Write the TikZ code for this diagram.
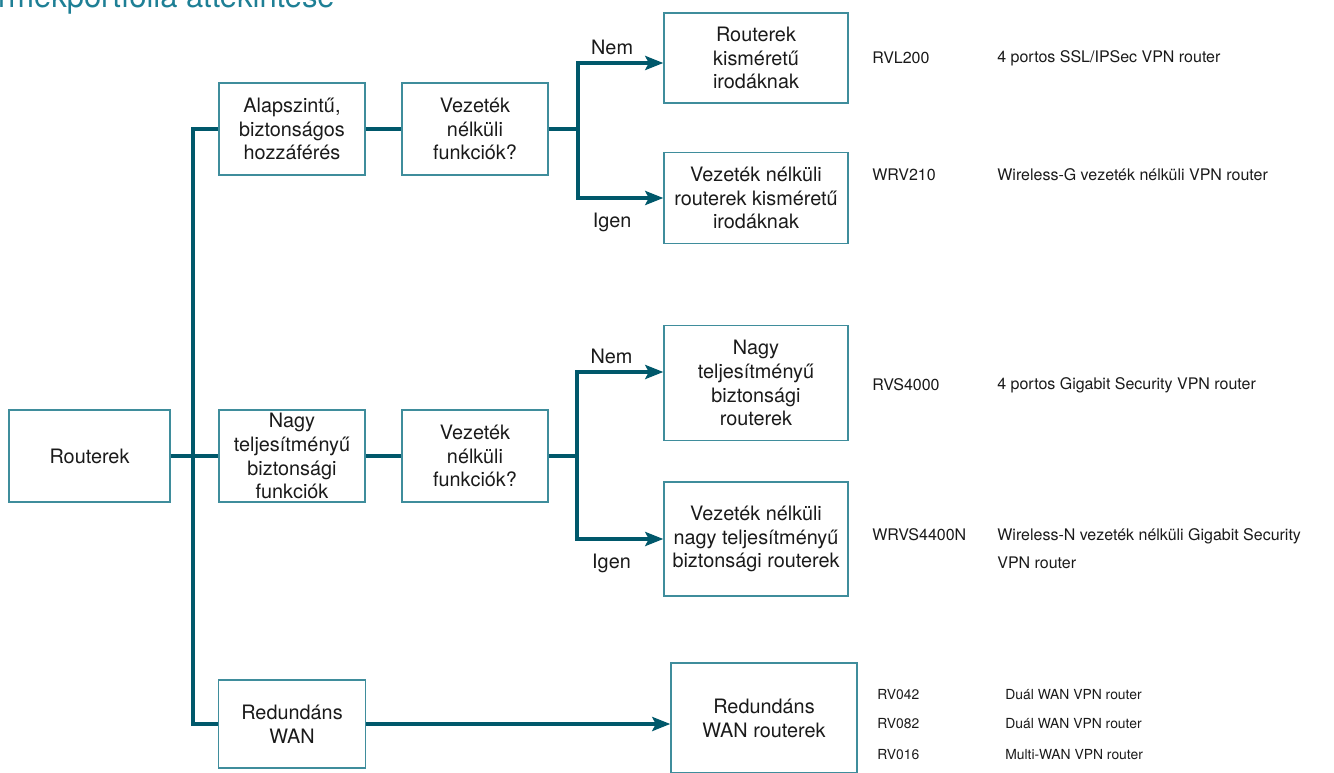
\documentclass[tikz,border=0pt]{standalone}
\usepackage{fontspec}
\setmainfont{TeX Gyre Heros}
\usetikzlibrary{arrows.meta}
\definecolor{petrol}{HTML}{00586B}
\definecolor{boxline}{HTML}{3F8D9C}
\definecolor{titleteal}{HTML}{1E7F95}
\definecolor{ink}{HTML}{1A1A1A}

\begin{document}
\begin{tikzpicture}[x=0.02cm, y=-0.02cm, text=ink,
    box/.style={draw=boxline, line width=0.85pt, align=center, inner xsep=1pt, inner ysep=0pt, font=\fontsize{11.3}{13.6}\selectfont},
    link/.style={draw=petrol, line width=2.3pt},
    arrowlink/.style={link, -{Stealth[length=0.36cm, width=0.28cm, inset=0.07cm]}},
    answer/.style={font=\fontsize{11.3}{13.6}\selectfont},
    rowtext/.style={anchor=west, align=left, inner sep=0pt, font=\fontsize{9.1}{15.9}\selectfont},
    rowsmall/.style={anchor=west, inner sep=0pt, font=\fontsize{7.9}{10}\selectfont}]
    \useasboundingbox (0,0) rectangle (1334,773);
    \clip (0,0) rectangle (1334,773);

    \node[anchor=base east, inner sep=0pt, text=titleteal, font=\fontsize{17.6}{20}\selectfont] (title) at (335,8) {Termékportfólia áttekintése};

    % boxes
    \node[box, minimum width=3.22cm, minimum height=1.84cm] (routers) at (89.5,456) {Routerek};
    \node[box, minimum width=2.92cm, minimum height=1.84cm] (basic) at (292,129) {Alapszintű,\\biztonságos\\hozzáférés};
    \node[box, minimum width=2.92cm, minimum height=1.84cm] (wlquery1) at (475,129) {Vezeték\\nélküli\\funkciók?};
    \node[box, minimum width=3.68cm, minimum height=1.8cm] (office) at (756,58) {Routerek\\kisméretű\\irodáknak};
    \node[box, minimum width=3.68cm, minimum height=1.82cm] (wloffice) at (756,198) {Vezeték nélküli\\routerek kisméretű\\irodáknak};
    \node[box, minimum width=2.92cm, minimum height=1.84cm] (perf) at (292,456) {Nagy\\teljesítményű\\biztonsági\\funkciók};
    \node[box, minimum width=2.92cm, minimum height=1.84cm] (wlquery2) at (475,456) {Vezeték\\nélküli\\funkciók?};
    \node[box, minimum width=3.68cm, minimum height=2.3cm] (perfr) at (756,383) {Nagy\\teljesítményű\\biztonsági\\routerek};
    \node[box, minimum width=3.68cm, minimum height=2.28cm] (wlperf) at (756,539) {Vezeték nélküli\\nagy teljesítményű\\biztonsági routerek};
    \node[box, minimum width=2.94cm, minimum height=1.76cm] (wan) at (292,724) {Redundáns\\WAN};
    \node[box, minimum width=3.72cm, minimum height=2.2cm] (wanr) at (764,718) {Redundáns\\WAN routerek};

    \coordinate (trunk) at (193,456);
    \coordinate (fork1) at (578,129);
    \coordinate (fork2) at (577,456);

    % connectors
    \draw[link] (routers) -- (perf);
    \draw[link] (basic.west) -| (trunk) |- (wan.west);
    \draw[link] (basic) -- (wlquery1);
    \draw[link] (wlquery1) -- (fork1);
    \draw[arrowlink] (fork1) |- node[answer, pos=0.7, above] (nem1) {Nem} ([yshift=-0.1cm]office.west);
    \draw[arrowlink] (fork1) |- node[answer, pos=0.7, below=4pt] (igen1) {Igen} (wloffice.west);
    \draw[link] (perf) -- (wlquery2);
    \draw[link] (wlquery2) -- (fork2);
    \draw[arrowlink] (fork2) |- node[answer, pos=0.7, above] (nem2) {Nem} ([yshift=0.22cm]perfr.west);
    \draw[arrowlink] (fork2) |- node[answer, pos=0.7, below=4pt] (igen2) {Igen} (wlperf.west);
    \draw[arrowlink] (wan) -- (wan -| wanr.west);

    % models
    \node[rowtext] (rvl) at (872,58) {RVL200};
    \node[rowtext] (rvldesc) at (997,58) {4 portos SSL/IPSec VPN router};
    \node[rowtext] (wrv) at (872,175) {WRV210};
    \node[rowtext] (wrvdesc) at (997,175) {Wireless-G vezeték nélküli VPN router};
    \node[rowtext] (rvs) at (872,385) {RVS4000};
    \node[rowtext] (rvsdesc) at (997,385) {4 portos Gigabit Security VPN router};
    \node[rowtext] (wrvs) at (872,535) {WRVS4400N};
    \node[rowtext] (wrvsdesc) at (997,549) {Wireless-N vezeték nélküli Gigabit Security\\VPN router};
    \node[rowsmall] (rv042) at (877,695) {RV042};
    \node[rowsmall] (rv042desc) at (1005,695) {Duál WAN VPN router};
    \node[rowsmall] (rv082) at (877,724) {RV082};
    \node[rowsmall] (rv082desc) at (1005,724) {Duál WAN VPN router};
    \node[rowsmall] (rv016) at (877,755) {RV016};
    \node[rowsmall] (rv016desc) at (1005,755) {Multi-WAN VPN router};
\end{tikzpicture}
\end{document}
